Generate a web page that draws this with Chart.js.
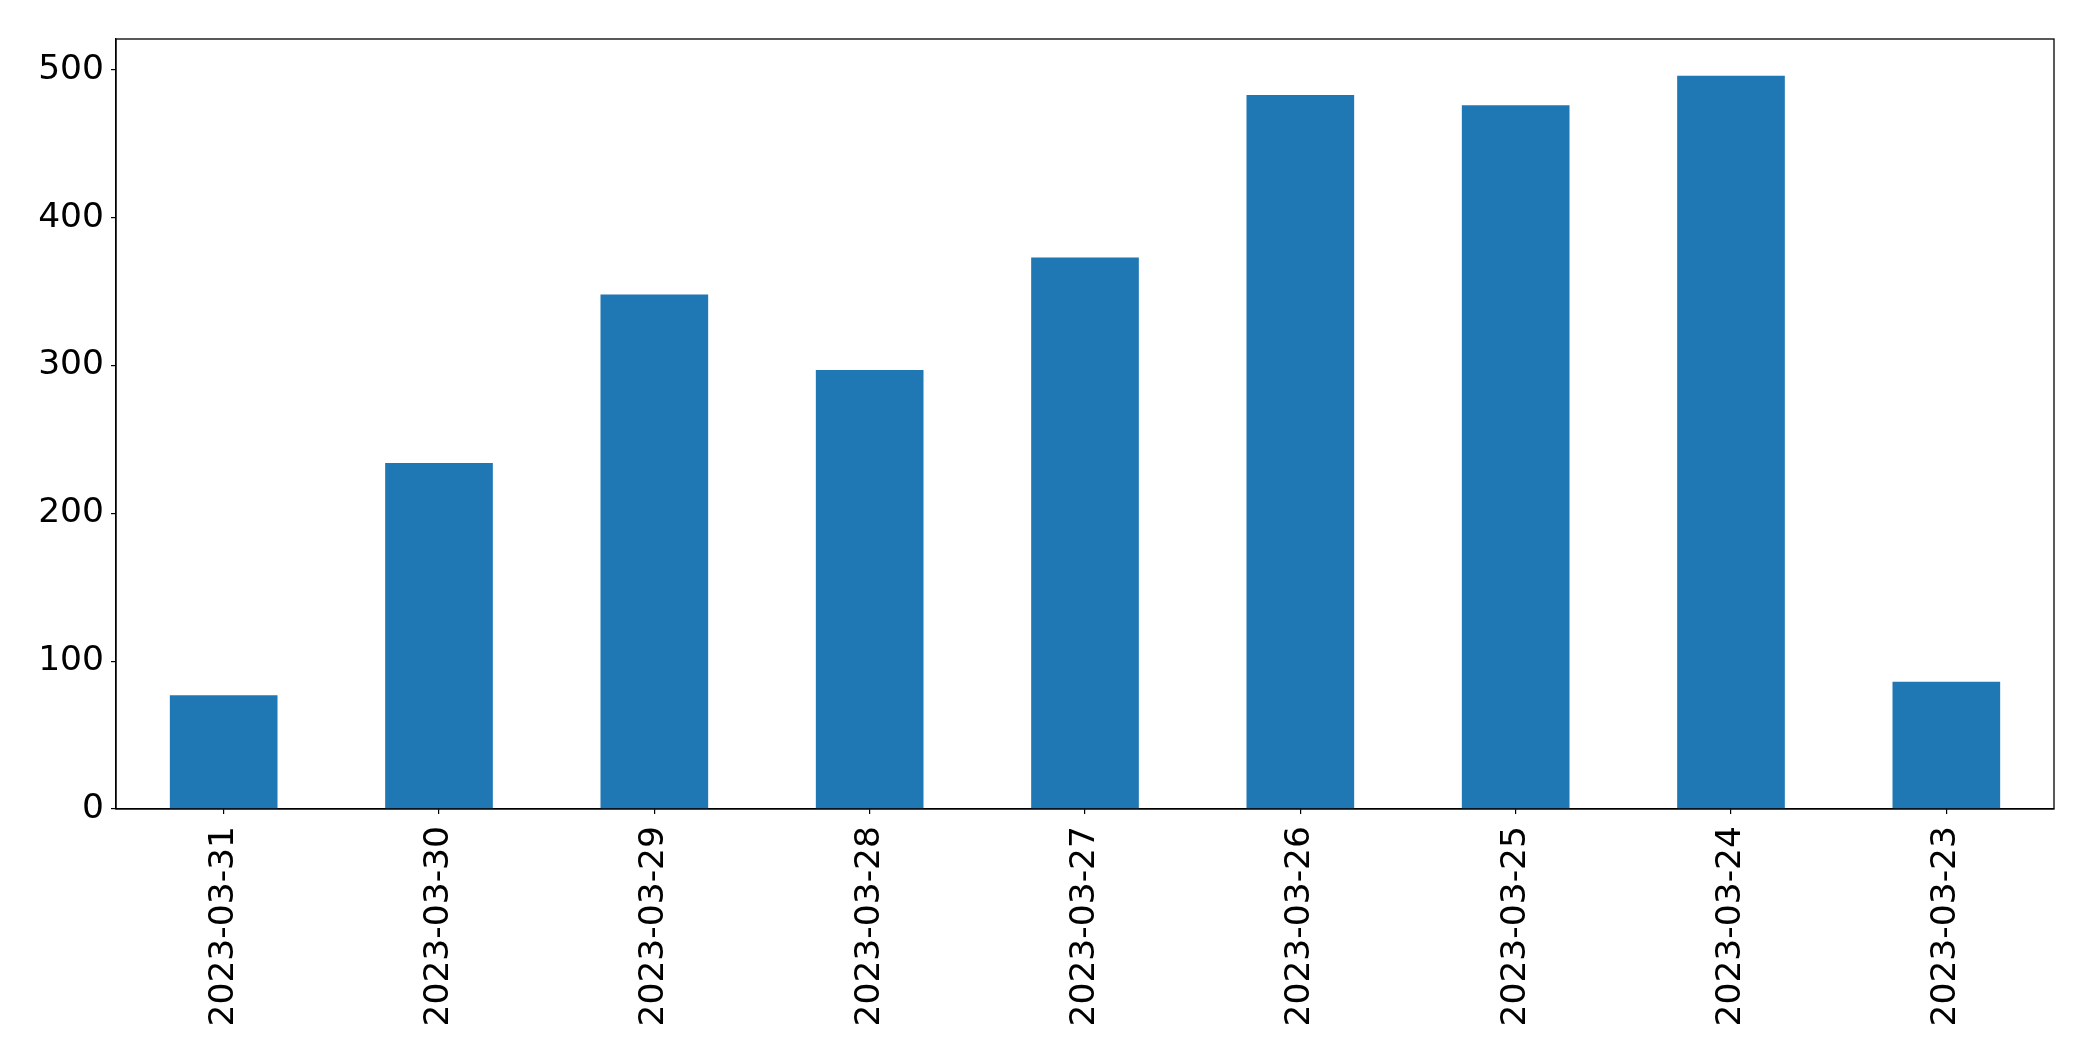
<!DOCTYPE html>
<html>
<head>
<meta charset="utf-8">
<script src="https://cdn.jsdelivr.net/npm/chart.js@4"></script>
<style>
  html, body { margin: 0; padding: 0; background: #fff; }
  #wrap { width: 2093px; height: 1061px; }
</style>
</head>
<body>
<div id="wrap"><canvas id="bar-chart"></canvas></div>
<script>
const dates = ['2023-03-31', '2023-03-30', '2023-03-29', '2023-03-28', '2023-03-27',
               '2023-03-26', '2023-03-25', '2023-03-24', '2023-03-23'];
const counts = [77, 234, 348, 297, 373, 483, 476, 496, 86];
const yTicks = [0, 100, 200, 300, 400, 500];

// box around the plot area, like the matplotlib axes frame
const frame = {
    id: 'frame',
    afterDraw(chart) {
        const { ctx, chartArea } = chart;
        ctx.save();
        ctx.strokeStyle = '#000';
        ctx.lineWidth = 1.3;
        ctx.strokeRect(chartArea.left, chartArea.top,
                       chartArea.right - chartArea.left, chartArea.bottom - chartArea.top);
        ctx.restore();
    }
};

const tickFont = { size: 34.5, family: "'DejaVu Sans'" };

new Chart(document.getElementById('bar-chart'), {
    type: 'bar',
    data: {
        labels: dates,
        datasets: [{
            data: counts,
            backgroundColor: '#1f77b4',
            borderWidth: 0,
            categoryPercentage: 1.0,
            barPercentage: 0.5
        }]
    },
    options: {
        responsive: true,
        maintainAspectRatio: false,
        animation: false,
        layout: { padding: { top: 39, right: 39, left: 0, bottom: 0 } },
        plugins: {
            legend: { display: false },
            tooltip: { enabled: false }
        },
        scales: {
            x: {
                grid: {
                    display: true,
                    offset: false,
                    drawOnChartArea: false,
                    drawTicks: true,
                    tickLength: 5,
                    color: '#000',
                    lineWidth: 1.2
                },
                border: { display: true, color: '#000', width: 1.3 },
                ticks: {
                    color: '#000',
                    font: tickFont,
                    minRotation: 90,
                    maxRotation: 90,
                    padding: 12,
                    autoSkip: false
                },
                afterFit(scale) { scale.height = 252; }
            },
            y: {
                min: 0,
                max: 520.8,
                afterBuildTicks(scale) {
                    scale.ticks = yTicks.map(v => ({ value: v }));
                },
                grid: {
                    display: true,
                    drawOnChartArea: false,
                    drawTicks: true,
                    tickLength: 5,
                    color: '#000',
                    lineWidth: 1.2
                },
                border: { display: true, color: '#000', width: 1.3 },
                ticks: {
                    color: '#000',
                    font: tickFont,
                    padding: 7
                },
                afterFit(scale) { scale.width = 116; }
            }
        }
    },
    plugins: [frame]
});
</script>
</body>
</html>
